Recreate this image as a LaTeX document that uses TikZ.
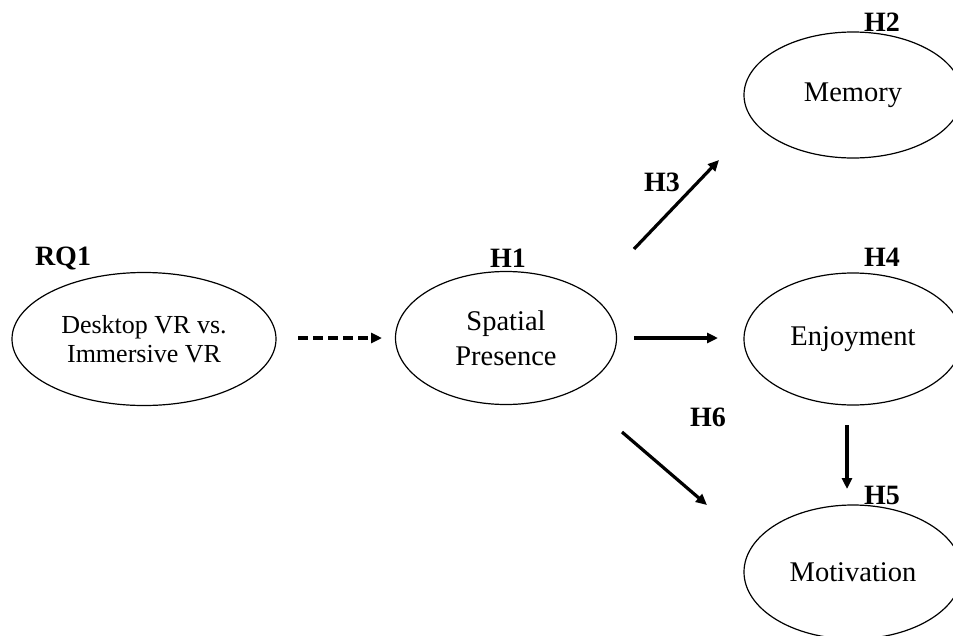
\documentclass[tikz,border=0pt]{standalone}
\usepackage{fontspec}
\setmainfont{Liberation Serif}
\usetikzlibrary{shapes.geometric,arrows.meta}
\begin{document}
\begin{tikzpicture}[x=1pt,y=-1pt,
  construct/.style={ellipse,draw,line width=1.2pt,inner sep=0pt,align=center,
    font=\fontsize{28.5}{35}\selectfont},
  hlabel/.style={inner sep=0pt,font=\fontsize{28}{30}\selectfont\bfseries},
  link/.style={line width=3.2pt,-{Triangle[length=11pt,width=10pt]}}]
\useasboundingbox (0,0) rectangle (953,635);
% constructs
\node[construct,minimum width=264pt,minimum height=133pt,
  font=\fontsize{26}{29}\selectfont] (rq) at (144,339) {Desktop VR vs.\\Immersive VR};
\node[construct,minimum width=221pt,minimum height=133pt] (sp) at (506,338) {Spatial\\Presence};
\node[construct,minimum width=218pt,minimum height=126pt] (mem) at (853,95) {Memory};
\node[construct,minimum width=218pt,minimum height=132pt] (enj) at (853,339) {Enjoyment};
\node[construct,minimum width=218pt,minimum height=134pt] (mot) at (853,572) {Motivation};
% labels
\node[hlabel] (lrq) at (63,258) {RQ1};
\node[hlabel] (lh1) at (508,258) {H1};
\node[hlabel] (lh2) at (882,22) {H2};
\node[hlabel] (lh3) at (662,182) {H3};
\node[hlabel] (lh4) at (882,257) {H4};
\node[hlabel] (lh5) at (882,495) {H5};
\node[hlabel] (lh6) at (708,417) {H6};
% connector end points
\coordinate (a1) at (298,338);
\coordinate (b1) at (382,338);
\coordinate (a2) at (634,249);
\coordinate (b2) at (719,160);
\coordinate (a3) at (634,338);
\coordinate (b3) at (718,338);
\coordinate (a4) at (622,432);
\coordinate (b4) at (707,505);
\coordinate (a5) at (847,425);
\coordinate (b5) at (847,489);
% connectors
\draw[link,dash pattern=on 10pt off 5pt] (a1) -- (b1);
\draw[link] (a2) -- (b2);
\draw[link] (a3) -- (b3);
\draw[link] (a4) -- (b4);
\draw[link] (a5) -- (b5);
\end{tikzpicture}
\end{document}
